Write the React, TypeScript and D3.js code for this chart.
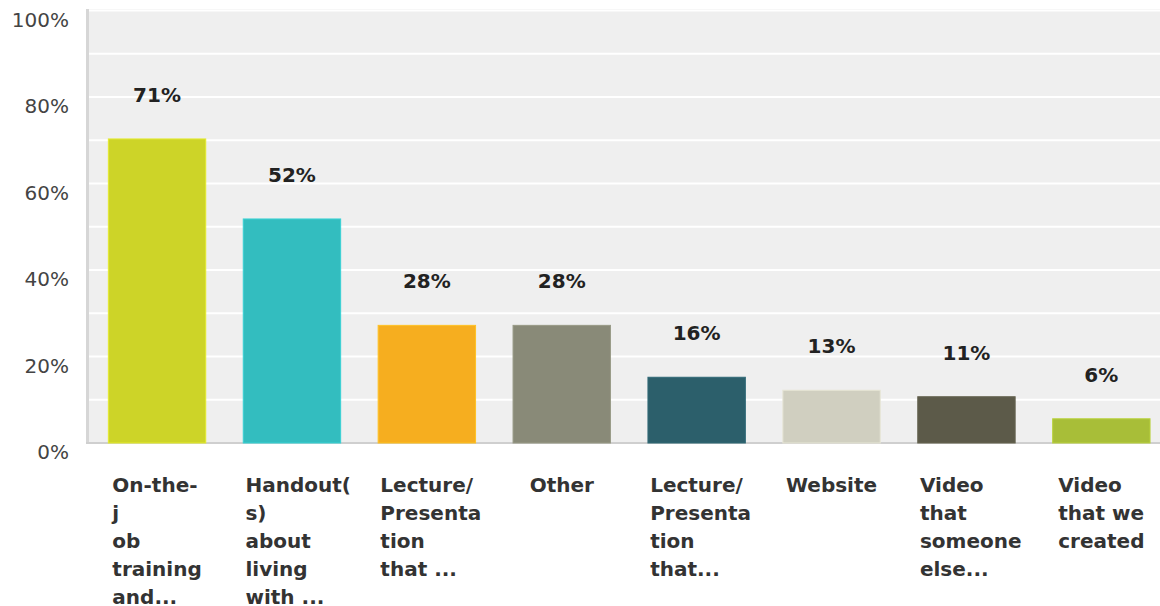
import React, { useMemo } from "react";
import * as d3 from "d3";

const categories: string[][] = [
  ["On-the-", "j", "ob", "training", "and..."],
  ["Handout(", "s)", "about", "living", "with ..."],
  ["Lecture/", "Presenta", "tion", "that ..."],
  ["Other"],
  ["Lecture/", "Presenta", "tion", "that..."],
  ["Website"],
  ["Video", "that", "someone", "else..."],
  ["Video", "that we", "created"],
];
const values: number[] = [70.3, 51.8, 27.2, 27.2, 15.2, 12.2, 10.7, 5.6];
const valueLabels: string[] = ["71%", "52%", "28%", "28%", "16%", "13%", "11%", "6%"];
const colors: string[] = ["#CDD428", "#33BDBF", "#F6AE1F", "#898A78", "#2C5F6B", "#D0CFC0", "#5C5A49", "#A8BE38"];
const yTicks: number[] = [0, 20, 40, 60, 80, 100];
const gridTicks: number[] = [10, 20, 30, 40, 50, 60, 70, 80, 90, 100];

const W = 1160;
const H = 606;
const plotLeft = 89;
const plotTop = 9;
const plotBottom = 443;

const catFont = "bold 20px 'DejaVu Sans'";

export default function App() {
  const y = d3.scaleLinear().domain([0, 100]).range([plotBottom, 10.5]);
  const x = d3
    .scaleBand<number>()
    .domain(d3.range(values.length))
    .range([89.6, 89.6 + 134.9 * values.length])
    .paddingInner(0.278)
    .paddingOuter(0.139);

  const widths = useMemo(() => {
    const c = document.createElement("canvas").getContext("2d");
    return categories.map((lines) => {
      if (!c) return 93;
      c.font = catFont;
      return Math.max(...lines.map((l) => c.measureText(l).width));
    });
  }, []);

  const bw = x.bandwidth();
  const wrapW = 93;

  return (
    <svg
      width={W}
      height={H}
      style={{ position: "absolute", left: 0, top: 0, background: "#fff" }}
      fontFamily="'DejaVu Sans', sans-serif"
    >
      <rect x={plotLeft} y={plotTop} width={W - plotLeft} height={plotBottom - plotTop} fill="#EFEFEF" />
      {gridTicks.map((t) => (
        <line key={t} x1={plotLeft} x2={W} y1={y(t)} y2={y(t)} stroke="#FFFFFF" strokeWidth={2} />
      ))}
      <line x1={87.5} x2={87.5} y1={plotTop} y2={plotBottom + 1} stroke="#D6D6D6" strokeWidth={3} />
      <line x1={86} x2={W} y1={plotBottom} y2={plotBottom} stroke="#CFCFCF" strokeWidth={2} />
      {yTicks.map((t) => (
        <text key={t} x={69} y={y(t) + 16} textAnchor="end" fontSize={20} fill="#444">
          {t}%
        </text>
      ))}
      {values.map((v, i) => (
        <g key={i}>
          <rect
            x={x(i)}
            y={y(v)}
            width={bw}
            height={plotBottom - y(v)}
            fill={colors[i]}
            stroke={d3.color(colors[i])!.brighter(0.3).toString()}
            strokeWidth={1}
          />
          <text
            x={(x(i) as number) + bw / 2}
            y={y(v) - 37}
            textAnchor="middle"
            fontSize={20}
            fontWeight="bold"
            fill="#222"
          >
            {valueLabels[i]}
          </text>
        </g>
      ))}
      {categories.map((lines, i) => {
        const cx = (x(i) as number) + bw / 2;
        const left = cx - Math.min(widths[i], wrapW) / 2;
        return (
          <text key={i} fontSize={20} fontWeight="bold" fill="#333">
            {lines.map((l, j) => (
              <tspan key={j} x={left} y={492 + j * 28}>
                {l}
              </tspan>
            ))}
          </text>
        );
      })}
    </svg>
  );
}
